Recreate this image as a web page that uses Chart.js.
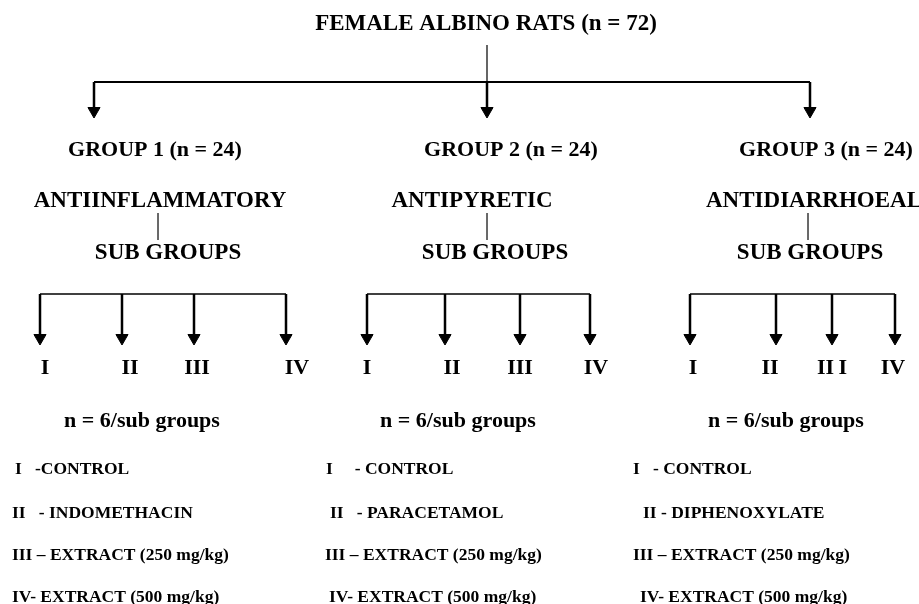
<!DOCTYPE html>
<html>
<head>
<meta charset="utf-8">
<script src="https://cdn.jsdelivr.net/npm/chart.js@4"></script>
<style>
  html, body { margin: 0; padding: 0; background: #fff; }
  #wrap { width: 919px; height: 604px; }
</style>
</head>
<body>
<div id="wrap"><canvas id="flow"></canvas></div>
<script>
// Text content of the flow chart
const titleText = 'FEMALE ALBINO RATS (n = 72)';
const groupLabels = ['GROUP 1 (n = 24)', 'GROUP 2 (n = 24)', 'GROUP 3 (n = 24)'];
const activityLabels = ['ANTIINFLAMMATORY', 'ANTIPYRETIC', 'ANTIDIARRHOEAL'];
const subGroupLabel = 'SUB GROUPS';
const romanLabels = [['I', 'II', 'III', 'IV'], ['I', 'II', 'III', 'IV'], ['I', 'II', 'II\u2009I', 'IV']];
const sampleLabel = 'n = 6/sub groups';
const treatmentsG1 = ['I   -CONTROL', 'II   - INDOMETHACIN', 'III \u2013 EXTRACT (250 mg/kg)', 'IV- EXTRACT (500 mg/kg)'];
const treatmentsG2 = ['I     - CONTROL', 'II   - PARACETAMOL', 'III \u2013 EXTRACT (250 mg/kg)', 'IV- EXTRACT (500 mg/kg)'];
const treatmentsG3 = ['I   - CONTROL', 'II - DIPHENOXYLATE', 'III \u2013 EXTRACT (250 mg/kg)', 'IV- EXTRACT (500 mg/kg)'];

// Layout (in the 919 x 604 coordinate space of the axes)
const titleX = 486, titleY = 30;
const trunkY = [45, 82];
const groupArrowX = [94, 487, 810];
const groupArrowTip = 118;
const groupLabelX = [155, 511, 826];
const activityX = [160, 472, 814];
const stemX = [158, 487, 808];
const stemY = [213, 240];
const subLabelX = [168, 495, 810];
const bracketY = 294;
const subArrowX = [[40, 122, 194, 286], [367, 445, 520, 590], [690, 776, 832, 895]];
const subArrowTip = 345;
const romanX = [[45, 130, 197, 297], [367, 452, 520, 596], [693, 770, 832, 893]];
const sampleX = [142, 458, 786];
const treatX = [[15, 12, 12, 12], [326, 330, 325, 329], [633, 643, 633, 640]];
const treatY = [474, 518, 560, 602];
const headR = 7;

// Each connector is its own small line dataset
const segments = [];
const heads = [];
const seg = (x1, y1, x2, y2, width, color) => segments.push({
    type: 'line',
    data: [{x: x1, y: y1}, {x: x2, y: y2}],
    borderColor: color || '#000',
    borderWidth: width,
    pointRadius: 0,
    fill: false,
    tension: 0,
});

seg(titleX + 1, trunkY[0], titleX + 1, trunkY[1], 1.2);
seg(groupArrowX[0], trunkY[1], groupArrowX[2], trunkY[1], 2);
groupArrowX.forEach(x => {
    seg(x, trunkY[1], x, groupArrowTip - headR, 2.5);
    heads.push({x: x, y: groupArrowTip - headR});
});
stemX.forEach(x => seg(x, stemY[0], x, stemY[1], 1, '#555'));
subArrowX.forEach(xs => {
    seg(xs[0], bracketY, xs[xs.length - 1], bracketY, 1.6);
    xs.forEach(x => {
        seg(x, bracketY, x, subArrowTip - headR, 2.5);
        heads.push({x: x, y: subArrowTip - headR});
    });
});

// Text drawn through the chart's own scales
const textPlugin = {
    id: 'flowText',
    afterDatasetsDraw(chart) {
        const ctx = chart.ctx;
        const sx = chart.scales.x, sy = chart.scales.y;
        const put = (text, x, y, size, align) => {
            ctx.font = 'bold ' + size + 'px "Liberation Serif", "Times New Roman", serif';
            ctx.textAlign = align || 'center';
            ctx.textBaseline = 'alphabetic';
            ctx.fillStyle = '#000';
            ctx.fillText(text, sx.getPixelForValue(x), sy.getPixelForValue(y));
        };
        ctx.save();
        put(titleText, titleX, titleY, 23);
        for (let g = 0; g < 3; g++) {
            put(groupLabels[g], groupLabelX[g], 156, 22);
            put(activityLabels[g], activityX[g], 207, 23);
            put(subGroupLabel, subLabelX[g], 259, 23);
            romanLabels[g].forEach((r, i) => put(r, romanX[g][i], 374, 22));
            put(sampleLabel, sampleX[g], 427, 22);
        }
        [treatmentsG1, treatmentsG2, treatmentsG3].forEach((list, g) => {
            list.forEach((t, i) => put(t, treatX[g][i], treatY[i], 17.5, 'left'));
        });
        ctx.restore();
    }
};

new Chart(document.getElementById('flow'), {
    type: 'scatter',
    data: {
        datasets: segments.concat([{
            type: 'scatter',
            data: heads,
            pointStyle: 'triangle',
            rotation: 180,
            radius: headR,
            backgroundColor: '#000',
            borderColor: '#000',
            borderWidth: 1,
        }])
    },
    options: {
        responsive: true,
        maintainAspectRatio: false,
        animation: false,
        layout: { padding: 0, autoPadding: false },
        plugins: { legend: { display: false }, tooltip: { enabled: false } },
        scales: {
            x: { type: 'linear', min: 0, max: 919, display: false },
            y: { type: 'linear', min: 0, max: 604, reverse: true, display: false },
        }
    },
    plugins: [textPlugin]
});
</script>
</body>
</html>
